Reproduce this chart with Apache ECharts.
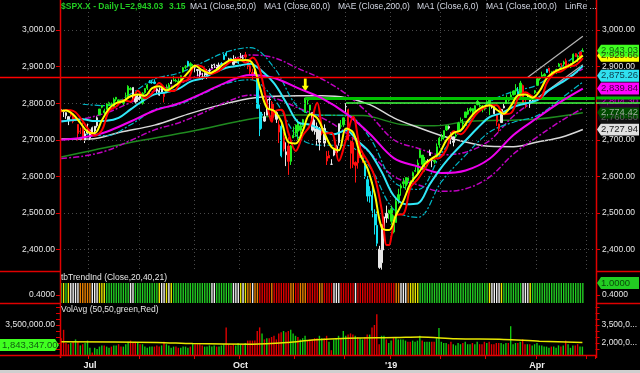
<!DOCTYPE html>
<html><head><meta charset="utf-8">
<script src="https://cdn.jsdelivr.net/npm/echarts@6/dist/echarts.min.js"></script>
<style>html,body{margin:0;padding:0;background:#000;}#c{width:640px;height:373px;}</style>
</head><body><div id="c"></div>
<script>
// ---------- DATA ----------
const firstDay = '2018-06-14';
const holidays = ['2018-07-04','2018-09-03','2018-11-22','2018-12-05','2018-12-25','2019-01-01','2019-01-21','2019-02-18','2019-04-19'];
const totalSlots = 224; // 219 trading days + 5 empty days on the right
const opens = [2783,2777,2766,2752,2770,2770,2760,2742,2723,2729,2699,2727,2705,2733,2724,2738,2768,2789,2779,2783,2796,2797,2789,2811,2809,2804,2800,2820,2817,2840,2843,2820,2810,2822,2800,2829,2841,2855,2856,2858,2839,2835,2828,2827,2831,2839,2853,2861,2860,2860,2862,2885,2901,2900,2908,2899,2897,2892,2889,2868,2882,2871,2888,2896,2906,2904,2891,2906,2919,2937,2921,2922,2916,2911,2910,2926,2924,2932,2919,2902,2878,2882,2873,2776,2770,2763,2767,2811,2802,2775,2774,2721,2737,2675,2667,2683,2641,2705,2718,2745,2726,2738,2775,2807,2795,2774,2730,2737,2693,2718,2731,2655,2657,2633,2658,2665,2692,2737,2741,2791,2782,2663,2692,2630,2664,2658,2659,2629,2591,2559,2548,2497,2466,2401,2364,2443,2499,2498,2477,2491,2474,2535,2568,2580,2574,2588,2580,2586,2614,2609,2651,2658,2643,2638,2657,2645,2644,2654,2686,2702,2706,2727,2736,2717,2693,2713,2722,2751,2743,2761,2770,2780,2785,2780,2805,2792,2787,2789,2799,2815,2794,2790,2768,2731,2747,2787,2799,2811,2811,2823,2840,2832,2819,2848,2796,2813,2820,2809,2829,2849,2869,2877,2874,2884,2888,2886,2881,2892,2900,2908,2912,2916,2904,2899,2910,2935,2929,2926,2941];
const highs = [2789,2782,2775,2764,2774,2770,2765,2742,2733,2747,2724,2744,2727,2736,2737,2764,2784,2795,2785,2800,2804,2802,2815,2817,2810,2810,2809,2829,2849,2844,2843,2821,2825,2826,2830,2841,2853,2863,2862,2865,2841,2843,2844,2827,2851,2855,2864,2874,2867,2868,2876,2899,2904,2916,2912,2907,2901,2893,2893,2883,2884,2893,2895,2906,2908,2905,2911,2912,2935,2941,2924,2924,2931,2927,2920,2937,2932,2940,2920,2910,2894,2894,2875,2796,2776,2776,2813,2816,2806,2798,2779,2753,2743,2722,2693,2707,2686,2736,2742,2756,2745,2757,2815,2812,2795,2776,2755,2747,2735,2747,2742,2669,2670,2647,2675,2685,2744,2754,2761,2800,2785,2698,2708,2641,2674,2686,2670,2635,2601,2573,2585,2510,2504,2410,2468,2490,2520,2509,2520,2493,2538,2566,2580,2595,2597,2596,2589,2613,2625,2646,2675,2658,2653,2647,2673,2648,2651,2690,2708,2716,2725,2738,2739,2720,2708,2719,2749,2761,2757,2776,2787,2789,2786,2794,2814,2803,2795,2791,2808,2816,2796,2791,2768,2744,2784,2798,2822,2816,2831,2835,2852,2844,2861,2851,2809,2829,2825,2820,2836,2870,2872,2886,2882,2893,2896,2886,2889,2894,2910,2909,2916,2922,2909,2909,2936,2937,2933,2940,2950];
const lows = [2776,2762,2757,2740,2763,2745,2751,2698,2716,2699,2691,2716,2699,2712,2716,2733,2768,2786,2770,2783,2792,2793,2788,2805,2796,2800,2795,2811,2813,2835,2809,2799,2804,2808,2796,2826,2836,2855,2853,2852,2826,2820,2827,2802,2831,2833,2853,2860,2857,2854,2862,2884,2893,2898,2896,2895,2885,2874,2870,2864,2870,2866,2880,2896,2896,2887,2890,2904,2919,2928,2913,2912,2903,2910,2907,2918,2920,2921,2893,2875,2863,2875,2784,2710,2730,2749,2767,2782,2756,2760,2746,2691,2652,2668,2628,2604,2631,2705,2708,2700,2716,2735,2775,2796,2764,2722,2714,2685,2671,2712,2681,2631,2650,2631,2655,2656,2684,2730,2735,2774,2698,2621,2623,2583,2621,2650,2637,2593,2531,2528,2488,2441,2409,2347,2345,2398,2473,2483,2468,2444,2474,2525,2547,2568,2563,2578,2570,2586,2612,2606,2650,2617,2613,2628,2657,2625,2634,2648,2678,2696,2700,2724,2728,2688,2682,2705,2722,2749,2732,2760,2767,2775,2764,2780,2794,2789,2775,2780,2791,2767,2785,2769,2738,2722,2747,2786,2799,2804,2811,2821,2823,2812,2817,2800,2786,2812,2787,2802,2825,2849,2862,2872,2874,2883,2881,2874,2879,2880,2899,2897,2900,2895,2897,2896,2909,2927,2913,2917,2940];
const closes = [2782,2780,2774,2763,2767,2750,2755,2717,2723,2700,2716,2718,2727,2713,2737,2760,2784,2794,2774,2798,2801,2798,2810,2816,2804,2802,2807,2820,2846,2837,2819,2803,2816,2813,2827,2840,2850,2858,2858,2854,2833,2822,2840,2818,2841,2850,2857,2863,2862,2857,2875,2897,2898,2914,2901,2902,2897,2889,2878,2872,2877,2888,2889,2904,2905,2889,2904,2908,2931,2930,2919,2916,2906,2914,2914,2925,2923,2926,2902,2886,2884,2880,2786,2728,2767,2751,2810,2809,2769,2768,2756,2741,2656,2706,2659,2641,2683,2712,2740,2723,2738,2755,2814,2807,2781,2726,2722,2702,2730,2736,2691,2642,2650,2633,2673,2682,2744,2738,2760,2790,2700,2696,2633,2638,2637,2651,2651,2600,2546,2546,2507,2467,2417,2351,2468,2489,2486,2507,2510,2448,2532,2550,2574,2585,2597,2596,2583,2610,2616,2636,2671,2633,2639,2642,2665,2644,2640,2681,2704,2707,2725,2738,2732,2706,2708,2710,2745,2753,2746,2776,2780,2785,2775,2793,2796,2794,2792,2784,2804,2793,2790,2771,2749,2743,2783,2792,2811,2808,2822,2833,2833,2824,2855,2801,2798,2818,2805,2815,2834,2867,2867,2873,2879,2893,2896,2878,2888,2888,2907,2906,2907,2900,2905,2908,2934,2927,2926,2940,2943];
// candle trend state per day: G green, W white, R red, C cyan
const candleState = 'WWWWRRRRRRWWWWWWGGGGGGGGGGGGGGWWWWGGGCCCWWWRGGWGGGGGGCGGWWWWWWWWWWWCCCWCWWCWWRRRRWCCCWWWRRWRCRWRGGGGGGGGGWWWWRWRRWWWWGGWRRRRRRRCCCCCCWWWWGGGGGGGGGGGGGGGGWWWGGGGGGWWWGGGGGGGGGGGGGGGWWRRWWGGGGGCGRRWWWGGGGGCRGRGGRGRRGGRGRG';
// tbTrendInd state per day: G green, Y yellow, W white, O orange, R red
const trendState = 'GYGYWWWWOOOOOWWWYYYGGGGGGGGGGWWGGGGGGGGGGYWWYWYGGGGGGGGGGGGGGGGWWGGGGGGGWWWYWYOOWOORRRRRORRRRRRROORROOORRRRROORRRRWWWRRRRRRWRRRRRRRRRRRRRRRROOWWWOYYYYGGGGGGGGGGGGGGGGGGGGGGGGGGGGGYWWWWYGGGGGGGGWWWYGGGGGGGGGGGGGGGGGGGGGG';
// volume in millions
const volumes = [2.4,3.1,2.0,1.9,2.0,2.1,2.3,2.1,1.8,1.9,2.0,2.2,1.6,1.2,1.6,1.5,1.7,1.8,1.8,1.7,1.6,1.7,1.8,1.8,1.9,1.7,1.7,1.9,2.1,2.2,2.0,2.1,2.0,1.9,1.9,1.7,1.6,1.7,1.7,1.7,1.8,1.7,1.8,2.1,1.9,1.8,1.6,1.7,1.7,1.6,1.6,1.7,1.7,1.6,1.7,2.0,1.9,1.9,1.9,1.8,1.7,1.7,1.8,1.7,1.8,1.7,1.7,1.8,1.9,3.3,1.9,1.8,1.9,1.8,2.0,1.9,1.9,2.0,2.2,2.2,2.2,2.2,3.0,3.3,2.8,2.3,2.4,2.4,2.5,2.6,2.3,2.8,2.9,3.0,2.9,3.0,3.1,2.8,2.6,2.5,2.3,2.4,2.6,2.2,2.3,2.3,2.4,2.4,2.6,2.4,2.4,2.6,2.1,1.4,2.3,2.4,2.6,2.4,3.0,2.6,2.7,2.8,2.7,2.6,2.5,2.4,2.3,2.5,2.7,2.7,3.3,3.5,4.4,1.9,2.6,2.6,2.3,2.0,2.2,2.5,2.5,2.3,2.3,2.3,2.2,2.1,2.1,2.2,2.1,2.2,2.6,2.2,2.1,2.1,2.1,2.1,2.1,2.4,3.25,2.1,2.0,2.0,1.9,2.1,1.9,1.8,2.0,1.9,2.0,2.1,1.9,1.9,2.0,1.9,2.1,1.9,1.9,2.1,2.0,2.1,1.9,1.9,2.0,2.0,2.0,1.9,2.0,2.0,3.4,1.9,2.0,2.0,2.1,2.3,1.9,1.9,1.9,1.8,1.9,2.0,1.8,1.8,1.7,1.7,1.6,1.7,1.7,1.6,1.8,1.7,1.8,2.2,1.9,1.6,1.8,1.8,1.9,1.7,1.7];
const volAvg = [[0,2.1],[40,2.05],[55,1.95],[80,1.9],[95,2.05],[105,2.25],[120,2.4],[140,2.45],[150,2.5],[165,2.35],[185,2.3],[200,2.15],[218,2.05]];
// overlay lines as [trading-day index, price]
const lineRed = [[0,2777],[2,2781],[5,2779],[8,2760],[11,2732],[14,2711],[17,2726],[20,2779],[23,2791],[26,2808],[29,2804],[32,2834],[35,2813],[38,2827],[41,2855],[44,2836],[47,2833],[50,2857],[53,2865],[56,2903],[59,2900],[62,2880],[65,2885],[68,2899],[71,2914],[74,2922],[77,2911],[80,2925],[83,2891],[86,2798],[88,2749],[89,2776],[92,2782],[95,2718],[98,2669],[101,2712],[104,2739],[107,2801],[110,2717],[113,2719],[116,2642],[119,2700],[122,2763],[125,2676],[128,2642],[131,2599],[134,2507],[136,2412],[137,2412],[138,2436],[140,2494],[143,2497],[146,2570],[149,2592],[152,2621],[155,2648],[158,2650],[161,2675],[164,2723],[167,2715],[170,2736],[173,2767],[176,2784],[179,2794],[182,2794],[185,2770],[188,2773],[191,2814],[194,2830],[197,2818],[200,2813],[203,2856],[206,2882],[209,2887],[212,2900],[215,2904],[218,2923]];
const lineYellow = [[0,2779],[2,2780],[5,2769],[8,2746],[11,2722],[14,2718],[17,2753],[20,2785],[23,2800],[26,2806],[29,2819],[32,2824],[35,2820],[38,2841],[41,2846],[44,2835],[47,2845],[50,2861],[53,2884],[56,2902],[59,2890],[62,2882],[65,2892],[68,2907],[71,2918],[74,2917],[77,2918],[80,2908],[83,2844],[86,2787],[89,2779],[92,2750],[95,2693],[98,2690],[101,2725],[104,2770],[107,2759],[110,2718],[113,2680],[116,2671],[119,2731],[122,2720],[125,2659],[128,2621],[131,2553],[134,2459],[137,2453],[140,2495],[143,2533],[146,2581],[149,2606],[152,2634],[155,2649],[158,2663],[161,2699],[164,2719],[167,2726],[170,2752],[173,2776],[176,2789],[179,2794],[182,2782],[185,2771],[188,2793],[191,2822],[194,2824],[197,2815],[200,2834],[203,2869],[206,2885],[209,2894],[212,2902],[215,2914],[218,2930]];
const lineCyan = [[0,2750],[4,2753],[9,2756],[14,2751],[19,2752],[24,2760],[29,2783],[34,2806],[39,2824],[44,2830],[49,2839],[54,2859],[59,2868],[64,2884],[69,2897],[74,2902],[79,2908],[84,2887],[89,2854],[94,2802],[99,2748],[104,2741],[109,2726],[114,2715],[119,2726],[124,2696],[129,2665],[134,2611],[139,2547],[144,2524],[149,2526],[154,2578],[159,2625],[164,2664],[169,2698],[174,2732],[179,2762],[184,2773],[189,2790],[194,2799],[199,2808],[204,2836],[209,2856],[214,2878],[218,2902]];
const lineCyanUp = [[9,2797],[19,2793],[29,2825],[39,2866],[49,2882],[59,2911],[69,2940],[79,2952],[89,2897],[99,2789],[109,2767],[119,2767],[129,2705],[139,2585],[149,2564],[159,2664],[169,2738],[179,2803],[189,2832],[199,2850],[209,2899],[218,2946]];
const lineCyanDn = [[9,2715],[19,2711],[29,2741],[39,2782],[49,2796],[59,2825],[69,2854],[79,2864],[89,2811],[99,2707],[109,2685],[119,2685],[129,2625],[139,2509],[149,2488],[159,2586],[169,2658],[179,2721],[189,2748],[199,2766],[209,2813],[218,2858]];
const lineMagenta = [[0,2700],[9,2706],[19,2722],[29,2750],[39,2780],[49,2799],[59,2827],[69,2857],[79,2877],[89,2869],[99,2841],[109,2813],[119,2772],[129,2716],[139,2650],[149,2627],[159,2609],[169,2616],[179,2648],[189,2713],[199,2760],[209,2805],[218,2840]];
const lineMagentaUp = [[0,2751],[9,2757],[19,2774],[29,2802],[39,2833],[49,2852],[59,2881],[69,2911],[79,2932],[89,2924],[99,2895],[109,2866],[119,2825],[129,2768],[139,2700],[149,2677],[159,2659],[169,2666],[179,2698],[189,2765],[199,2812],[209,2858],[218,2894]];
const lineMagentaDn = [[0,2649],[9,2655],[19,2670],[29,2698],[39,2727],[49,2746],[59,2773],[69,2803],[79,2822],[89,2814],[99,2787],[109,2760],[119,2719],[129,2664],[139,2600],[149,2577],[159,2559],[169,2566],[179,2598],[189,2661],[199,2708],[209,2752],[218,2786]];
const lineWhite = [[0,2702],[12,2702],[25,2721],[39,2740],[53,2770],[67,2796],[81,2815],[99,2820],[109,2820],[119,2815],[129,2796],[139,2760],[149,2734],[159,2711],[169,2694],[179,2682],[189,2681],[199,2694],[209,2707],[218,2728]];
const lineGreen = [[0,2653],[27,2690],[55,2724],[81,2759],[98,2768],[126,2766],[142,2742],[156,2738],[170,2750],[199,2757],[218,2774]];
const linRegUp = [[195,2871],[218,2983]];
const linRegDn = [[196,2800],[218,2905]];
const priorHigh = 2872.87;
const breakLevels = [[102,2813.89],[119,2800.18]];
const arrowDay = 102;
const priceTicks = [2400,2500,2600,2700,2800,2900,3000];
const volTicks = [3.5];
const volTicksRight = [2.0,3.5];
const trendTicks = [0.4];
const rightTagValues = [2727.94,2760.5,2774.42,2804.3,2839.84,2875.26,2929.66,2943.03];
const lastPrice = 2943.03, lastChange = 3.15, lastVolAvg = 1843347;
const legendItems = ['MA1 (Close,50,0)','MA1 (Close,60,0)','MAE (Close,200,0)','MA1 (Close,6,0)','MA1 (Close,100,0)','LinRe ...'];

// ---------- BUILD ----------
function buildDates(){
  const out=[]; const d=new Date(firstDay+'T00:00:00Z');
  while(out.length<totalSlots){
    const s=d.toISOString().slice(0,10); const wd=d.getUTCDay();
    if(wd!==0&&wd!==6&&holidays.indexOf(s)<0) out.push(s);
    d.setUTCDate(d.getUTCDate()+1);
  }
  return out;
}
const dates = buildDates();
const monthStart = dates.map((s,i)=> i>0 && s.slice(5,7)!==dates[i-1].slice(5,7));
const quarterName = {'07':'Jul','10':'Oct','01':"'19",'04':'Apr'};
const isQuarter = dates.map((s,i)=> monthStart[i] && quarterName[s.slice(5,7)]!==undefined);

const CANDLE_COL = {G:'#1ef01e',W:'#e8e8e8',R:'#ff1010',C:'#10e0f0'};
const TREND_COL = {G:'#22cc22',Y:'#e8e800',W:'#f0f0f0',O:'#e88000',R:'#e00000'};
const FONT = 'Liberation Sans, Arial, sans-serif';

const candleData = closes.map((c,i)=>{
  const col = CANDLE_COL[candleState[i]];
  return {value:[opens[i],c,lows[i],highs[i]], itemStyle:{color:col,color0:col,borderColor:col,borderColor0:col,borderWidth:1}};
});
const trendData = trendState.split('').map(k=>({value:1,itemStyle:{color:TREND_COL[k]}}));
const volData = volumes.map((v,i)=>({value:v,itemStyle:{color:(i>0&&closes[i]>=closes[i-1])?'#10c810':'#e00000'}}));

const fmt2 = v => Number(v).toLocaleString('en-US',{minimumFractionDigits:2,maximumFractionDigits:2});
const lab = {color:'#e6e6e6',fontSize:8.5,fontFamily:FONT};

function ln(name,data,color,width,type,z){
  return {name,type:'line',xAxisIndex:0,yAxisIndex:0,data,showSymbol:false,smooth:0.35,silent:true,z:z||3,
    lineStyle:{color,width,type:type||'solid'}};
}
const dashDot=[6,2,2,2];

const baseX = (gi,extra)=>Object.assign({type:'category',gridIndex:gi,data:dates,boundaryGap:true,
  axisLine:{show:false},axisTick:{show:false},axisLabel:{show:false},splitLine:{show:false}},extra||{});

const option = {
  backgroundColor:'#000',animation:false,
  grid:[{left:60,right:44,top:0,height:270},{left:60,right:44,top:271,height:32},{left:60,right:44,top:303,height:52}],
  xAxis:[
    baseX(0,{splitLine:{show:true,interval:(i)=>monthStart[i],lineStyle:{color:'#4a4a4a',type:[1,3],width:1}}}),
    baseX(1),
    baseX(2,{axisTick:{show:true,interval:(i)=>monthStart[i],length:4,lineStyle:{color:'#e00000'}},
      axisLabel:{show:true,interval:(i)=>isQuarter[i],formatter:(v)=>quarterName[v.slice(5,7)]||'',color:'#f0f0f0',fontSize:9,fontWeight:'bold',fontFamily:FONT,margin:6}})
  ],
  yAxis:[
    {type:'value',gridIndex:0,position:'left',min:2344,max:3082,axisLine:{show:false},splitLine:{show:false},
      axisTick:{show:true,customValues:priceTicks,length:4,lineStyle:{color:'#e00000'}},
      axisLabel:Object.assign({customValues:priceTicks,formatter:fmt2,margin:5},lab)},
    {type:'value',gridIndex:0,position:'right',min:2344,max:3082,axisLine:{show:false},splitLine:{show:false},
      axisTick:{show:true,customValues:priceTicks,length:4,lineStyle:{color:'#e00000'}},
      axisLabel:Object.assign({customValues:priceTicks,formatter:fmt2,margin:6},lab)},
    {type:'value',gridIndex:1,position:'left',min:0,max:1.6,axisLine:{show:false},splitLine:{show:false},
      axisTick:{show:true,customValues:trendTicks,length:4,lineStyle:{color:'#e00000'}},
      axisLabel:Object.assign({customValues:trendTicks,formatter:v=>v.toFixed(4),margin:5},lab)},
    {type:'value',gridIndex:1,position:'right',min:0,max:1.6,axisLine:{show:false},splitLine:{show:false},
      axisTick:{show:true,customValues:trendTicks,length:4,lineStyle:{color:'#e00000'}},
      axisLabel:Object.assign({customValues:trendTicks,formatter:v=>v.toFixed(4),margin:6},lab)},
    {type:'value',gridIndex:2,position:'left',min:1.0,max:5.3333,axisLine:{show:false},splitLine:{show:false},
      axisTick:{show:true,customValues:[1.5,2,2.5,3,3.5,4,4.5,5],length:4,lineStyle:{color:'#e00000'}},
      axisLabel:Object.assign({customValues:volTicks,formatter:v=>fmt2(v*1e6),margin:5},lab)},
    {type:'value',gridIndex:2,position:'right',min:1.0,max:5.3333,axisLine:{show:false},splitLine:{show:false},
      axisTick:{show:true,customValues:[1.5,2,2.5,3,3.5,4,4.5,5],length:4,lineStyle:{color:'#e00000'}},
      axisLabel:Object.assign({customValues:volTicksRight,formatter:v=>fmt2(v*1e6).slice(0,7)+'...',margin:6},lab)}
  ],
  series:[
    {type:'line',xAxisIndex:0,yAxisIndex:0,data:[],silent:true,z:1,
      markLine:{silent:true,symbol:'none',label:{show:false},lineStyle:{color:'#4a4a4a',type:[1,3],width:1},
        data:priceTicks.map(v=>({yAxis:v}))}},
    ln('ma200',lineGreen,'#1f8a1f',1.5),
    ln('ma100',lineWhite,'#d8d8d8',1.5),
    ln('magUp',lineMagentaUp,'#c000c0',1.5,dashDot),
    ln('magDn',lineMagentaDn,'#c000c0',1.5,dashDot),
    ln('cyUp',lineCyanUp,'#00b8c8',1.2,dashDot),
    ln('cyDn',lineCyanDn,'#00b8c8',1.2,dashDot),
    ln('linUp',linRegUp,'#b4b4b4',1.2,'solid'),
    ln('linDn',linRegDn,'#b4b4b4',1.2,'solid'),
    {type:'candlestick',xAxisIndex:0,yAxisIndex:0,data:candleData,barWidth:1.8,silent:true,z:4},
    ln('ma50',lineMagenta,'#ee00ee',2,'solid',5),
    ln('ma20',lineCyan,'#30e8f8',2,'solid',5),
    ln('dma',lineRed,'#ff0000',2,'solid',6),
    ln('ma6',lineYellow,'#ffff00',2,'solid',7),
    {type:'line',xAxisIndex:0,yAxisIndex:0,data:[],silent:true,z:8,
      markLine:{silent:true,symbol:'none',label:{show:false},
        data:[
          [{coord:[breakLevels[0][0],breakLevels[0][1]],lineStyle:{color:'#00c000',width:3,type:'solid'}},{coord:[totalSlots-1,breakLevels[0][1]]}],
          [{coord:[breakLevels[1][0],breakLevels[1][1]],lineStyle:{color:'#40ff40',width:1.5,type:'solid'}},{coord:[totalSlots-1,breakLevels[1][1]]}]
        ]},
      markPoint:{silent:true,symbol:'path://M3,0 L7,0 L7,9 L10,9 L5,16 L0,9 L3,9 Z',symbolSize:[7,13],symbolOffset:[0,0],
        itemStyle:{color:'#ffff00'},label:{show:false},data:[{coord:[arrowDay,highs[arrowDay]+35]}]}},
    {type:'bar',xAxisIndex:1,yAxisIndex:2,data:trendData,barWidth:1.4,silent:true},
    {type:'bar',xAxisIndex:2,yAxisIndex:4,data:volData,barWidth:1.4,silent:true},
    {type:'line',xAxisIndex:2,yAxisIndex:4,data:volAvg,showSymbol:false,smooth:0.3,silent:true,z:5,lineStyle:{color:'#e8e800',width:1.5}}
  ]
};
const chart = echarts.init(document.getElementById('c'),null,{renderer:'canvas'});
chart.setOption(option);

// ---------- overlays: frame, texts, tags ----------
const g=[];
const red='#e00000';
function line(x1,y1,x2,y2,c,w,z){g.push({type:'line',shape:{x1,y1,x2,y2},style:{stroke:c,lineWidth:w||1},z:z||50,silent:true});}
function text(x,y,t,fill,size,weight,align){g.push({type:'text',x,y,style:{text:t,fill,font:(weight||'normal')+' '+(size||9)+'px '+FONT,textVerticalAlign:'middle',textAlign:align||'left'},z:60,silent:true});}
line(60.5,0,60.5,358,red,1.5);
line(596.5,0,596.5,358,red,1.5);
line(0,271.5,60,271.5,red,1.5); line(597,271.5,640,271.5,red,1.5);
line(0,303.5,60,303.5,red,1.5); line(597,303.5,640,303.5,red,1.5);
line(0,355.5,597,355.5,red,1.5);
g.push({type:'rect',shape:{x:0,y:370,width:640,height:3},style:{fill:'#cfcfcf'},z:40,silent:true});
// prior high line across full width
const yHigh=Math.round(chart.convertToPixel({yAxisIndex:0},priorHigh))+0.5;
line(0,yHigh,596,yHigh,'#ff0000',1.5,30);
// titles
text(61,7,'$SPX.X - Daily','#22cc22',8.5,'bold');
text(120,7,'L='+fmt2(lastPrice),'#22cc22',8.5,'bold');
text(169,7,lastChange.toFixed(2),'#22cc22',8.5,'bold');
const legX=[190,264,338,417,486,565];
legendItems.forEach((t,i)=>text(legX[i],7,t,'#d4d8e4',8.5));
text(61,278,'tbTrendInd (Close,20,40,21)','#e6e6e6',8.5);
text(61,310,'VolAvg (50,50,green,Red)','#e6e6e6',8.5);
// tags
function rightTag(y,t,bg,fg){
  g.push({type:'polygon',shape:{points:[[597,y],[601,y-6],[639,y-6],[639,y+6],[601,y+6]]},style:{fill:bg},z:70,silent:true});
  g.push({type:'text',x:601,y:y,style:{text:t,fill:fg,font:'9.5px '+FONT,textVerticalAlign:'middle'},z:71,silent:true});
}
const tagStyle=[['#e0e0e0','#202020'],['#101010','#606060'],['#004a00','#9ab09a'],['#2a002a','#d000d0'],['#ff00ff','#400040'],['#30e0f0','#104050'],['#ffff00','#404000'],['#40ff20','#106010']];
rightTagValues.forEach((v,i)=>{
  const y=chart.convertToPixel({yAxisIndex:1},v);
  rightTag(y,fmt2(v),tagStyle[i][0],tagStyle[i][1]);
});
// break-level lines continue through the right tag column
const yB0=chart.convertToPixel({yAxisIndex:0},breakLevels[0][1]);
const yB1=chart.convertToPixel({yAxisIndex:0},breakLevels[1][1]);
line(596,yB0,640,yB0,'#00c000',3,75);
line(596,yB1,640,yB1,'#40ff40',1.5,75);
rightTag(chart.convertToPixel({yAxisIndex:3},1.0),'1.0000','#22cc22','#0a4a0a');
const yv=chart.convertToPixel({yAxisIndex:4},lastVolAvg/1e6);
g.push({type:'polygon',shape:{points:[[0,yv-6],[55,yv-6],[59,yv],[55,yv+6],[0,yv+6]]},style:{fill:'#40ff20'},z:70,silent:true});
g.push({type:'text',x:2,y:yv,style:{text:fmt2(lastVolAvg),fill:'#106010',font:'9.5px '+FONT,textVerticalAlign:'middle'},z:71,silent:true});
chart.setOption({graphic:g});
</script></body></html>
